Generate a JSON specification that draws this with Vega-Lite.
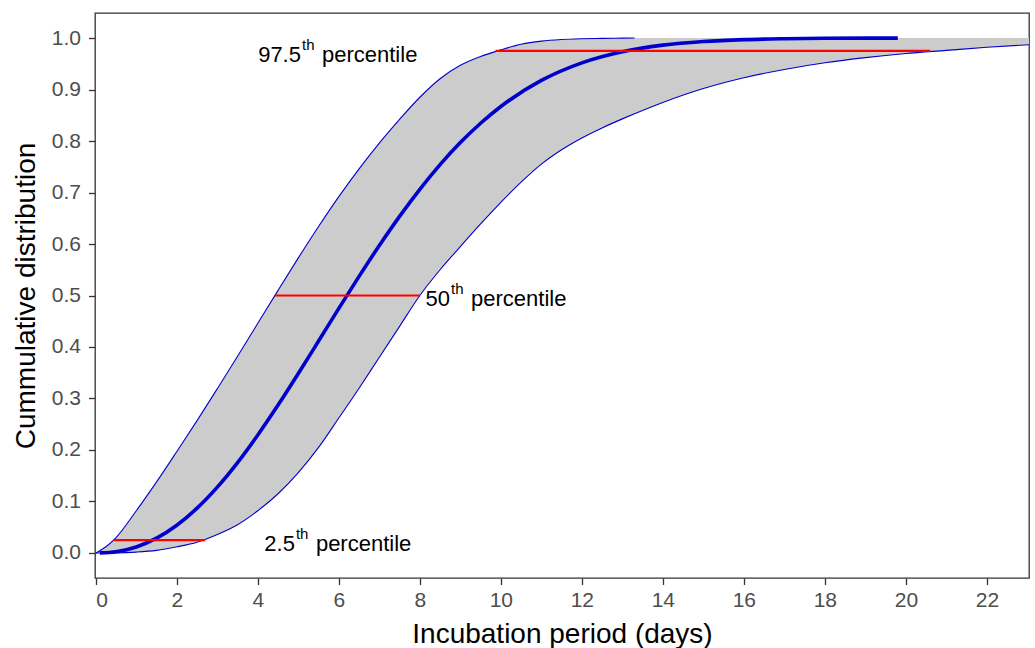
{
  "$schema": "https://vega.github.io/schema/vega-lite/v6.json",
  "autosize": {"type": "none"},
  "padding": {"left": 95, "top": 13, "right": 6, "bottom": 70},
  "width": 934,
  "height": 565,
  "config": {
    "font": "Liberation Sans",
    "view": {"stroke": "#333333", "strokeWidth": 1.3},
    "background": "white"
  },
  "datasets": {
    "band": [
      {"x": 0, "lo": 0, "hi": 0},
      {"x": 0.25, "lo": 0, "hi": 0.012},
      {"x": 0.5, "lo": 0.0002, "hi": 0.03},
      {"x": 1.0, "lo": 0.0017, "hi": 0.082},
      {"x": 1.5, "lo": 0.005, "hi": 0.138},
      {"x": 2.0, "lo": 0.012, "hi": 0.197},
      {"x": 2.5, "lo": 0.021, "hi": 0.257},
      {"x": 3.0, "lo": 0.036, "hi": 0.319},
      {"x": 3.5, "lo": 0.055, "hi": 0.382},
      {"x": 4.0, "lo": 0.082, "hi": 0.446},
      {"x": 4.5, "lo": 0.115, "hi": 0.51},
      {"x": 5.0, "lo": 0.156, "hi": 0.573},
      {"x": 5.5, "lo": 0.205, "hi": 0.634},
      {"x": 6.0, "lo": 0.262, "hi": 0.692},
      {"x": 6.5, "lo": 0.32, "hi": 0.746},
      {"x": 7.0, "lo": 0.38, "hi": 0.796},
      {"x": 7.5, "lo": 0.44, "hi": 0.842},
      {"x": 8.0, "lo": 0.5, "hi": 0.885},
      {"x": 8.5, "lo": 0.55, "hi": 0.921},
      {"x": 9.0, "lo": 0.595, "hi": 0.947},
      {"x": 9.5, "lo": 0.639, "hi": 0.964},
      {"x": 10.0, "lo": 0.681, "hi": 0.977},
      {"x": 10.5, "lo": 0.72, "hi": 0.988},
      {"x": 11.0, "lo": 0.755, "hi": 0.994},
      {"x": 11.5, "lo": 0.783, "hi": 0.997},
      {"x": 12.0, "lo": 0.806, "hi": 0.9985},
      {"x": 12.5, "lo": 0.8255, "hi": 0.9993},
      {"x": 13.0, "lo": 0.843, "hi": 0.9998},
      {"x": 13.3, "lo": 0.853, "hi": 1.0},
      {"x": 14.0, "lo": 0.875, "hi": 1.0},
      {"x": 15.0, "lo": 0.902, "hi": 1.0},
      {"x": 16.0, "lo": 0.923, "hi": 1.0},
      {"x": 17.0, "lo": 0.939, "hi": 1.0},
      {"x": 18.0, "lo": 0.952, "hi": 1.0},
      {"x": 19.0, "lo": 0.962, "hi": 1.0},
      {"x": 20.0, "lo": 0.97, "hi": 1.0},
      {"x": 21.0, "lo": 0.976, "hi": 1.0},
      {"x": 22.0, "lo": 0.982, "hi": 1.0},
      {"x": 23.04, "lo": 0.987, "hi": 1.0}
    ],
    "median": [
      {"x": 0.1, "y": 0.0001},
      {"x": 0.5, "y": 0.0025},
      {"x": 1.0, "y": 0.0117},
      {"x": 1.5, "y": 0.0287},
      {"x": 2.0, "y": 0.0538},
      {"x": 2.5, "y": 0.087},
      {"x": 3.0, "y": 0.1279},
      {"x": 3.5, "y": 0.1756},
      {"x": 4.0, "y": 0.2292},
      {"x": 4.5, "y": 0.2872},
      {"x": 5.0, "y": 0.3485},
      {"x": 5.5, "y": 0.4115},
      {"x": 6.0, "y": 0.4749},
      {"x": 6.5, "y": 0.5371},
      {"x": 7.0, "y": 0.5971},
      {"x": 7.5, "y": 0.6537},
      {"x": 8.0, "y": 0.7062},
      {"x": 8.5, "y": 0.7541},
      {"x": 9.0, "y": 0.7969},
      {"x": 9.5, "y": 0.8345},
      {"x": 10.0, "y": 0.867},
      {"x": 11.0, "y": 0.9176},
      {"x": 12.0, "y": 0.9518},
      {"x": 13.0, "y": 0.9734},
      {"x": 14.0, "y": 0.9862},
      {"x": 15.0, "y": 0.9932},
      {"x": 16.0, "y": 0.9969},
      {"x": 17.0, "y": 0.9986},
      {"x": 18.0, "y": 0.99945},
      {"x": 19.0, "y": 0.9998},
      {"x": 19.8, "y": 0.9999}
    ],
    "segments": [
      {"x1": 0.45, "x2": 2.7, "y": 0.025},
      {"x1": 4.42, "x2": 8.0, "y": 0.5},
      {"x1": 9.87, "x2": 20.6, "y": 0.975}
    ],
    "labels": [
      {"x": 5.09, "y": 0.975, "num": "97.5", "sup": "th", "rest": "percentile"},
      {"x": 8.77, "y": 0.5, "num": "50", "sup": "th", "rest": "percentile"},
      {"x": 4.94, "y": 0.025, "num": "2.5", "sup": "th", "rest": "percentile"}
    ]
  },
  "encoding": {
    "x": {
      "field": "x",
      "type": "quantitative",
      "scale": {"domain": [-0.02, 23.04], "nice": false, "zero": false},
      "axis": {
        "values": [0, 2, 4, 6, 8, 10, 12, 14, 16, 18, 20, 22],
        "title": "Incubation period (days)",
        "grid": false,
        "domain": false,
        "tickColor": "#333333",
        "tickWidth": 1.3,
        "tickSize": 6.5,
        "labelFontSize": 21,
        "labelColor": "#4d4d4d",
        "labelPadding": 5,
        "titleFontSize": 28,
        "titleFontWeight": "normal",
        "titleColor": "#000000",
        "titleBaseline": "alphabetic",
        "titleY": 64
      }
    },
    "y": {
      "type": "quantitative",
      "scale": {"domain": [-0.0486, 1.0486], "nice": false, "zero": false},
      "axis": {
        "values": [0, 0.1, 0.2, 0.3, 0.4, 0.5, 0.6, 0.7, 0.8, 0.9, 1.0],
        "format": ".1f",
        "title": "Cummulative distribution",
        "grid": false,
        "domain": false,
        "tickColor": "#333333",
        "tickWidth": 1.3,
        "tickSize": 6.5,
        "labelFontSize": 21,
        "labelColor": "#4d4d4d",
        "labelPadding": 8,
        "titleFontSize": 28,
        "titleFontWeight": "normal",
        "titleColor": "#000000",
        "titleBaseline": "alphabetic",
        "titleX": -61
      }
    }
  },
  "layer": [
    {
      "data": {"name": "band"},
      "mark": {"type": "area", "color": "#cccccc", "interpolate": "monotone", "clip": true},
      "encoding": {
        "y": {"field": "lo", "type": "quantitative"},
        "y2": {"field": "hi"}
      }
    },
    {
      "data": {"name": "band"},
      "mark": {"type": "line", "color": "#0000CD", "strokeWidth": 1.1, "interpolate": "monotone", "clip": true},
      "encoding": {"y": {"field": "lo", "type": "quantitative"}}
    },
    {
      "data": {"name": "band"},
      "transform": [{"filter": "datum.x <= 13.3"}],
      "mark": {"type": "line", "color": "#0000CD", "strokeWidth": 1.1, "interpolate": "monotone"},
      "encoding": {"y": {"field": "hi", "type": "quantitative"}}
    },
    {
      "data": {"name": "median"},
      "mark": {"type": "line", "color": "#0000CD", "strokeWidth": 3.6, "interpolate": "monotone"},
      "encoding": {"y": {"field": "y", "type": "quantitative"}}
    },
    {
      "data": {"name": "segments"},
      "mark": {"type": "rule", "color": "#FF0000", "strokeWidth": 2.2},
      "encoding": {
        "x": {"field": "x1", "type": "quantitative"},
        "x2": {"field": "x2"},
        "y": {"field": "y", "type": "quantitative"}
      }
    },
    {
      "data": {"name": "labels"},
      "mark": {"type": "text", "align": "right", "baseline": "alphabetic", "fontSize": 22, "dx": -1, "dy": 10.7, "color": "#000000"},
      "encoding": {
        "y": {"field": "y", "type": "quantitative"},
        "text": {"field": "num"}
      }
    },
    {
      "data": {"name": "labels"},
      "mark": {"type": "text", "align": "left", "baseline": "alphabetic", "fontSize": 15, "dx": 0, "dy": -1.3, "color": "#000000"},
      "encoding": {
        "y": {"field": "y", "type": "quantitative"},
        "text": {"field": "sup"}
      }
    },
    {
      "data": {"name": "labels"},
      "mark": {"type": "text", "align": "left", "baseline": "alphabetic", "fontSize": 22, "dx": 20, "dy": 10.7, "color": "#000000"},
      "encoding": {
        "y": {"field": "y", "type": "quantitative"},
        "text": {"field": "rest"}
      }
    }
  ]
}
